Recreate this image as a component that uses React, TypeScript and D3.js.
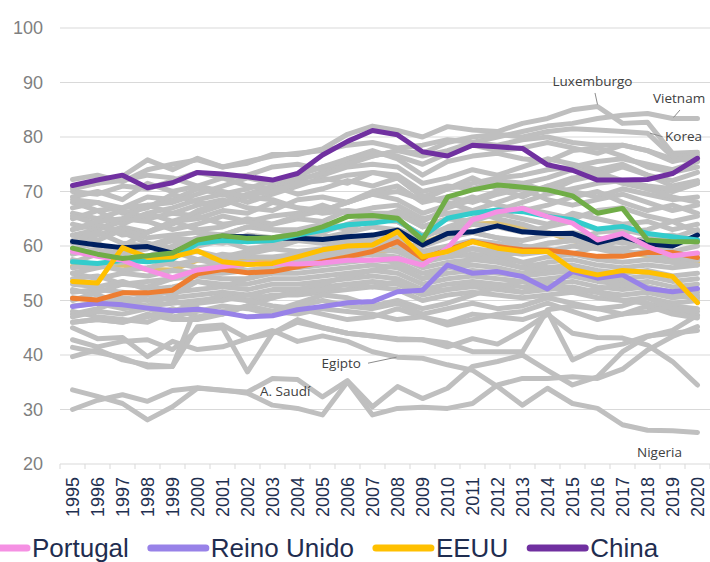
import React, { useEffect, useRef } from "react";
import * as d3 from "d3";

const years = [
  "1995", "1996", "1997", "1998", "1999", "2000", "2001", "2002", "2003",
  "2004", "2005", "2006", "2007", "2008", "2009", "2010", "2011", "2012",
  "2013", "2014", "2015", "2016", "2017", "2018", "2019", "2020",
];
const yTicks = [20, 30, 40, 50, 60, 70, 80, 90, 100];

// highlighted countries
const portugal = [59.0, 58.1, 57.4, 55.6, 54.2, 55.6, 56.2, 56.7, 56.8, 56.7, 56.9, 57.4, 57.4, 57.7, 56.5, 59.6, 64.8, 66.3, 66.9, 65.4, 64.2, 61.1, 62.3, 59.9, 58.2, 58.7];
const reinoUnido = [48.9, 49.5, 49.2, 48.6, 48.1, 48.4, 47.8, 47.0, 47.2, 48.3, 48.9, 49.6, 49.8, 51.6, 51.9, 56.5, 55.0, 55.3, 54.4, 52.1, 55.3, 54.1, 54.7, 52.2, 51.6, 52.2];
const eeuu = [53.5, 53.2, 59.7, 57.9, 58.0, 59.1, 57.1, 56.6, 56.8, 58.0, 59.3, 60.0, 60.2, 62.6, 58.0, 59.0, 60.8, 59.6, 59.0, 59.0, 55.7, 54.7, 55.5, 55.2, 54.4, 49.6];
const china = [71.1, 72.1, 73.0, 70.7, 71.6, 73.5, 73.2, 72.7, 72.1, 73.3, 76.7, 79.2, 81.2, 80.4, 77.3, 76.5, 78.5, 78.2, 77.9, 74.9, 73.9, 72.1, 72.1, 72.2, 73.3, 76.1];
const serieVerde = [59.6, 58.5, 57.7, 58.2, 58.7, 61.1, 61.9, 61.4, 61.5, 62.2, 63.5, 65.4, 65.6, 65.1, 61.1, 69.0, 70.3, 71.2, 70.8, 70.3, 69.2, 66.0, 66.9, 61.1, 60.8, 60.8];
const serieAzul = [60.8, 60.2, 59.7, 59.9, 58.7, 60.8, 61.8, 61.7, 61.4, 61.4, 61.2, 61.7, 62.0, 62.9, 60.2, 62.3, 62.6, 63.7, 62.6, 62.3, 62.3, 60.6, 61.7, 60.4, 60.0, 62.0];
const serieTurquesa = [57.1, 56.8, 57.4, 57.1, 57.6, 60.5, 61.0, 60.8, 61.0, 62.0, 62.9, 63.9, 64.2, 64.8, 61.7, 65.1, 66.0, 66.6, 66.3, 65.4, 64.8, 63.1, 63.6, 62.3, 61.7, 61.1];
const serieNaranja = [50.4, 50.1, 51.4, 51.4, 51.9, 54.9, 55.7, 55.1, 55.3, 56.2, 57.1, 58.0, 59.0, 60.8, 57.7, 59.3, 60.8, 59.9, 59.3, 59.2, 58.7, 58.1, 58.1, 58.8, 58.8, 57.9];
const serieOcre = [56.3, 56.1, 56.5, 55.7, 55.6, 57.4, 57.5, 57.3, 57.6, 58.0, 58.3, 58.5, 58.7, 59.5, 60.5, 62.3, 64.0, 64.2, 63.5, 62.5, 61.0, 60.0, 59.0, 58.2, 57.3, 57.0];

// rest of the countries (grey)
const vietnam = [62.0, 63.0, 64.5, 66.0, 67.0, 68.5, 69.5, 70.5, 72.0, 73.0, 74.5, 75.5, 76.5, 77.5, 76.5, 77.5, 79.0, 80.0, 81.0, 82.0, 82.5, 83.4, 84.0, 84.3, 83.4, 83.4];
const luxemburgo = [72.2, 73.0, 71.8, 74.0, 75.0, 75.8, 74.5, 75.2, 76.8, 76.8, 77.8, 80.5, 82.0, 81.2, 80.0, 81.9, 81.3, 81.0, 82.5, 83.4, 85.0, 85.6, 82.5, 82.7, 77.0, 77.2];
const korea = [60.5, 62.0, 63.5, 62.5, 64.5, 66.0, 67.5, 69.0, 70.5, 72.0, 73.5, 75.0, 76.5, 77.5, 77.0, 79.0, 80.0, 80.5, 80.0, 81.0, 81.5, 81.3, 81.0, 80.7, 76.4, 76.7];
const egipto = [45.0, 43.0, 43.2, 39.7, 42.5, 41.0, 41.5, 43.0, 44.5, 42.5, 43.5, 42.5, 40.6, 39.6, 39.4, 38.2, 37.2, 34.2, 30.8, 33.9, 31.1, 30.2, 27.2, 26.2, 26.1, 25.8];
const saudi = [30.0, 31.7, 32.7, 31.5, 33.5, 34.0, 33.5, 33.2, 35.7, 35.5, 32.3, 35.3, 30.5, 34.2, 32.0, 33.9, 37.9, 38.8, 40.0, 37.2, 34.5, 36.0, 40.6, 43.4, 44.5, 47.3];
const nigeria = [33.6, 32.4, 31.1, 28.1, 30.5, 33.9, 33.6, 33.0, 30.8, 30.2, 29.0, 35.1, 29.0, 30.2, 30.4, 30.2, 31.1, 34.5, 35.7, 35.7, 36.0, 35.7, 37.4, 40.9, 43.4, 45.2];
const g01 = [70.8, 71.5, 72.8, 75.8, 74.0, 76.1, 74.5, 75.5, 76.5, 77.0, 77.5, 78.5, 79.0, 78.0, 78.5, 79.5, 79.0, 78.5, 79.5, 80.0, 79.0, 78.5, 78.5, 77.5, 76.0, 75.5];
const g02 = [70.0, 69.5, 71.0, 70.5, 72.0, 73.5, 72.5, 73.0, 74.5, 75.0, 74.0, 76.0, 77.5, 76.0, 73.0, 75.5, 76.5, 77.0, 76.0, 75.5, 77.5, 78.0, 76.5, 74.5, 73.5, 74.5];
const g03 = [69.0, 70.0, 68.5, 71.5, 70.0, 71.0, 72.5, 71.0, 70.5, 72.5, 73.0, 74.5, 75.0, 74.5, 71.5, 72.5, 74.0, 73.0, 74.5, 76.0, 75.0, 74.0, 75.0, 73.0, 71.0, 72.0];
const g04 = [68.0, 66.5, 67.0, 69.0, 68.5, 70.5, 69.5, 68.0, 69.5, 71.0, 72.5, 71.5, 73.5, 73.0, 70.0, 71.0, 70.5, 72.0, 71.5, 70.0, 72.0, 73.0, 71.5, 70.5, 70.0, 71.5];
const g05 = [67.0, 68.0, 66.0, 67.0, 69.5, 68.0, 67.5, 69.5, 71.0, 69.5, 70.5, 72.0, 71.0, 72.5, 69.0, 70.5, 72.5, 70.5, 69.0, 71.0, 70.0, 69.0, 70.5, 69.5, 68.5, 69.0];
const g06 = [66.0, 65.0, 66.5, 65.0, 66.0, 67.5, 68.5, 67.0, 66.5, 68.5, 69.0, 68.0, 70.0, 71.0, 68.0, 69.0, 68.0, 69.5, 70.5, 68.5, 67.5, 68.5, 69.5, 68.0, 66.5, 67.5];
const g07 = [65.0, 66.5, 64.0, 66.0, 64.5, 65.0, 66.5, 66.0, 68.0, 67.0, 66.5, 68.0, 69.5, 68.5, 66.0, 67.5, 69.0, 67.5, 66.5, 67.5, 69.0, 70.0, 68.0, 66.5, 67.5, 66.0];
const g08 = [64.0, 63.0, 65.0, 64.5, 63.0, 64.0, 65.5, 64.5, 65.5, 66.0, 67.5, 66.0, 67.0, 67.5, 65.0, 66.0, 66.5, 65.5, 67.0, 66.0, 65.0, 66.5, 67.0, 65.5, 64.5, 65.5];
const g09 = [63.0, 64.0, 62.0, 62.5, 64.5, 63.0, 63.5, 65.0, 64.0, 65.0, 64.5, 66.5, 66.0, 66.0, 63.5, 65.0, 64.5, 66.0, 65.0, 64.0, 66.0, 65.0, 64.0, 64.5, 63.0, 64.0];
const g10 = [62.0, 61.0, 63.0, 61.5, 62.0, 62.5, 62.0, 63.5, 63.0, 63.0, 64.0, 63.5, 65.0, 64.5, 62.0, 63.0, 64.0, 63.5, 62.5, 63.5, 64.5, 63.0, 62.5, 63.0, 64.5, 62.5];
const g11 = [61.0, 62.5, 60.5, 60.0, 61.5, 61.0, 60.5, 62.0, 61.5, 62.5, 61.5, 62.5, 63.5, 63.0, 60.0, 61.5, 62.5, 61.5, 61.0, 62.0, 62.5, 61.5, 60.5, 61.5, 62.0, 61.0];
const g12 = [59.5, 58.5, 59.0, 60.5, 59.5, 60.0, 61.0, 59.5, 60.0, 61.0, 60.5, 61.0, 62.0, 61.5, 59.0, 60.0, 61.0, 60.5, 59.5, 60.5, 61.0, 60.0, 59.5, 60.5, 59.0, 60.0];
const g13 = [58.5, 59.5, 57.5, 58.0, 58.5, 59.0, 58.0, 59.0, 59.5, 59.0, 59.5, 60.5, 60.0, 60.5, 58.0, 59.0, 59.5, 59.0, 58.5, 59.0, 60.0, 59.5, 58.5, 59.0, 58.0, 58.5];
const g14 = [57.5, 56.5, 57.0, 57.5, 56.5, 57.5, 58.5, 58.0, 58.0, 58.5, 58.0, 59.0, 59.5, 59.0, 57.0, 58.0, 58.5, 58.0, 57.0, 58.0, 58.5, 57.5, 57.0, 57.5, 57.0, 57.5];
const g15 = [56.0, 56.5, 55.5, 56.0, 57.0, 56.0, 56.5, 57.0, 56.5, 57.5, 57.0, 58.0, 58.5, 58.0, 56.0, 57.0, 57.5, 57.0, 56.0, 57.0, 57.5, 56.5, 56.0, 56.5, 56.0, 56.5];
const g16 = [55.0, 54.0, 55.0, 54.5, 55.5, 55.0, 55.0, 55.5, 56.0, 56.0, 56.5, 57.0, 57.5, 57.0, 55.0, 56.0, 56.5, 56.0, 55.0, 56.0, 56.5, 55.5, 55.0, 55.5, 54.5, 55.0];
const g17 = [54.0, 54.5, 53.0, 53.5, 54.0, 54.5, 54.0, 54.0, 55.0, 55.0, 55.5, 56.0, 56.5, 56.0, 54.0, 55.0, 55.5, 55.0, 54.5, 55.0, 55.5, 54.5, 54.0, 54.5, 53.5, 54.0];
const g18 = [53.0, 52.5, 53.5, 52.0, 52.5, 53.5, 53.0, 53.0, 54.0, 54.0, 54.5, 55.0, 55.5, 55.0, 53.0, 54.0, 54.5, 54.0, 53.5, 54.0, 54.5, 53.5, 53.0, 53.5, 52.5, 53.0];
const g19 = [51.5, 52.0, 51.5, 51.0, 51.5, 52.0, 52.5, 52.0, 53.0, 53.0, 53.5, 54.0, 54.5, 54.0, 52.0, 53.0, 53.5, 53.0, 52.5, 53.0, 53.5, 52.5, 52.0, 52.5, 51.5, 52.0];
const g20 = [50.5, 50.0, 50.5, 50.0, 50.5, 51.0, 51.5, 51.0, 52.0, 52.0, 52.5, 53.0, 53.5, 53.0, 51.0, 52.0, 52.5, 52.0, 51.5, 52.0, 52.5, 51.5, 51.0, 51.5, 50.5, 51.0];
const g21 = [49.0, 49.5, 48.5, 49.0, 49.5, 50.0, 50.5, 50.0, 51.0, 51.0, 51.5, 52.0, 52.5, 52.0, 50.0, 51.0, 51.5, 51.0, 50.5, 51.0, 51.5, 50.5, 50.0, 50.5, 49.5, 50.0];
const g22 = [55.0, 56.0, 57.5, 58.0, 60.0, 61.5, 62.0, 63.5, 64.0, 65.5, 66.5, 68.0, 69.5, 70.0, 68.5, 70.5, 71.5, 72.5, 73.0, 74.0, 74.5, 75.5, 76.0, 75.0, 74.0, 75.5];
const g23 = [68.5, 68.0, 67.0, 67.5, 66.0, 65.5, 64.0, 64.5, 63.0, 62.5, 62.0, 61.0, 60.5, 61.0, 58.5, 59.0, 58.0, 57.5, 56.0, 55.5, 55.0, 54.0, 53.5, 52.5, 51.5, 50.5];
const g24 = [46.0, 46.5, 46.0, 47.5, 46.5, 46.5, 47.5, 49.0, 50.5, 52.0, 53.0, 54.5, 55.5, 56.5, 54.0, 56.0, 57.5, 58.0, 59.0, 60.5, 61.0, 62.5, 63.0, 62.0, 61.5, 63.0];
const g25 = [57.0, 58.5, 60.0, 62.5, 64.0, 66.5, 68.0, 69.5, 70.0, 71.5, 72.0, 73.0, 73.5, 72.5, 69.0, 68.0, 66.5, 65.0, 64.0, 62.5, 61.5, 60.5, 59.0, 58.5, 57.0, 56.5];
const g26 = [65.5, 64.0, 62.5, 60.5, 59.0, 57.5, 56.5, 55.5, 56.0, 57.5, 58.5, 60.0, 61.5, 63.0, 61.5, 63.5, 65.0, 66.5, 68.0, 69.5, 70.5, 71.5, 72.0, 71.0, 70.5, 71.5];
const g27 = [47.5, 48.5, 50.0, 49.0, 51.0, 53.5, 52.5, 54.0, 56.5, 58.0, 57.5, 59.5, 61.0, 60.0, 57.5, 58.0, 59.5, 58.5, 57.0, 56.0, 55.5, 54.0, 53.0, 52.5, 51.0, 50.5];
const g28 = [52.0, 51.0, 49.5, 51.0, 50.0, 48.5, 47.5, 49.0, 48.0, 49.5, 51.0, 50.5, 49.0, 50.0, 48.5, 49.5, 51.0, 52.5, 51.5, 53.5, 52.0, 51.5, 50.0, 49.5, 48.0, 47.3];
const g29 = [48.0, 47.0, 46.5, 46.0, 48.0, 49.5, 51.0, 50.0, 49.0, 48.5, 47.5, 46.5, 47.0, 48.5, 47.0, 45.5, 46.5, 47.5, 48.0, 49.5, 48.0, 46.5, 47.5, 49.0, 47.5, 46.8];
const g30 = [59.5, 60.5, 58.5, 59.5, 61.0, 60.0, 62.0, 61.0, 60.5, 62.5, 64.0, 63.0, 65.0, 66.5, 64.5, 67.0, 68.5, 70.0, 71.5, 72.5, 74.0, 73.5, 72.0, 70.5, 69.0, 68.0];
const g31 = [70.5, 71.5, 72.0, 73.0, 72.5, 71.0, 70.0, 69.0, 68.5, 67.0, 66.0, 66.5, 65.0, 64.5, 62.0, 63.0, 62.5, 61.5, 60.0, 59.5, 58.5, 60.0, 61.0, 59.5, 58.0, 57.5];
const g32 = [63.0, 64.5, 65.0, 67.5, 68.0, 69.5, 71.0, 72.5, 71.5, 73.0, 74.5, 76.0, 77.0, 76.5, 75.0, 77.0, 78.5, 77.5, 78.0, 79.0, 78.0, 77.0, 78.5, 77.5, 75.5, 76.5];
const g33 = [50.0, 51.5, 53.0, 52.5, 54.0, 55.5, 57.0, 58.5, 59.5, 61.0, 62.5, 64.0, 65.5, 66.0, 63.5, 65.0, 66.5, 68.0, 69.5, 71.0, 72.5, 73.0, 74.5, 73.0, 72.0, 73.5];
const g34 = [39.7, 41.0, 39.1, 38.2, 37.9, 45.2, 45.5, 43.0, 44.0, 46.0, 45.0, 44.0, 43.5, 43.0, 42.8, 41.5, 43.0, 42.0, 44.5, 47.5, 44.0, 43.2, 43.1, 41.8, 38.8, 34.5];
const g35 = [42.8, 41.5, 42.5, 42.8, 41.0, 44.5, 45.0, 36.9, 44.0, 46.5, 45.0, 44.0, 43.5, 42.8, 42.8, 42.2, 40.6, 40.6, 40.6, 48.3, 49.0, 48.5, 47.5, 48.0, 49.0, 48.5];
const g36 = [46.0, 46.5, 46.0, 47.0, 48.5, 47.0, 48.0, 49.0, 48.0, 47.5, 48.5, 48.0, 47.5, 46.5, 47.0, 46.0, 47.5, 47.0, 46.5, 48.0, 39.1, 41.2, 42.0, 43.5, 44.0, 44.5];
const g37 = [41.4, 40.5, 39.5, 37.8, 37.9, 49.5, 50.0, 51.0, 50.5, 51.5, 52.0, 53.0, 52.5, 53.5, 51.5, 52.0, 53.0, 52.5, 53.5, 52.5, 51.5, 52.0, 53.0, 52.0, 51.0, 51.5];
const g38 = [47.0, 48.0, 47.5, 48.5, 47.0, 48.0, 49.0, 48.5, 47.5, 49.0, 50.0, 49.0, 48.5, 49.5, 47.5, 48.5, 49.5, 48.5, 49.0, 50.5, 49.5, 48.5, 49.0, 50.5, 48.5, 48.0];

const greyLines = [
  vietnam, luxemburgo, korea, egipto, saudi, nigeria,
  g01, g02, g03, g04, g05, g06, g07, g08, g09, g10, g11, g12, g13, g14,
  g15, g16, g17, g18, g19, g20, g21, g22, g23, g24, g25, g26, g27, g28,
  g29, g30, g31, g32, g33, g34, g35, g36, g37, g38,
];

// coloured lines, drawn in this order (last on top)
const colourLines = [
  { values: reinoUnido, color: "#9882E8" },
  { values: serieNaranja, color: "#ED7D31" },
  { values: serieAzul, color: "#002060" },
  { values: serieTurquesa, color: "#33CCCC" },
  { values: portugal, color: "#F590E3" },
  { values: eeuu, color: "#FFC000" },
  { values: serieVerde, color: "#70AD47" },
  { values: china, color: "#7030A0" },
];

const legendItems = [
  { name: "Portugal", color: "#F590E3" },
  { name: "Reino Unido", color: "#9882E8" },
  { name: "EEUU", color: "#FFC000" },
  { name: "China", color: "#7030A0" },
];

// name labels: anchored on a point of a grey line, offsets in px
const callouts = [
  { text: "Luxemburgo", values: luxemburgo, i: 21, dx: -5, dy: -20, anchor: "middle", leader: [-2.5, -13.5, 0, -2] },
  { text: "Vietnam", values: vietnam, i: 24, dx: -19.5, dy: -15.5, anchor: "start", leader: [7.5, -8.5, 1, -1] },
  { text: "Korea", values: korea, i: 23, dx: 17.5, dy: 8, anchor: "start", leader: [2.5, 0, 15, 3.5] },
  { text: "Egipto", values: egipto, i: 13, dx: -36.5, dy: 11, anchor: "end", leader: [-29.5, 6, -1, 0] },
  { text: "A. Saudí", values: saudi, i: 8, dx: -12.5, dy: 17.6, anchor: "start", leader: null },
  { text: "Nigeria", values: egipto, i: 25, dx: -60.5, dy: 24.6, anchor: "start", leader: null },
];

function drawChart(node: SVGSVGElement) {
  const width = 710;
  const height = 562;
  const plot = { left: 60, right: 710, top: 28, bottom: 464 };

  const svg = d3.select(node);
  svg.selectAll("*").remove();
  svg.attr("width", width).attr("height", height);

  const x = d3.scaleBand().domain(years).range([plot.left, plot.right]).padding(0);
  const y = d3.scaleLinear().domain([20, 100]).range([plot.bottom, plot.top]);
  const cx = (i: number) => (x(years[i]) as number) + x.bandwidth() / 2;

  // grid
  svg
    .append("g")
    .selectAll("line")
    .data(yTicks.slice(1))
    .join("line")
    .attr("x1", plot.left)
    .attr("x2", plot.right)
    .attr("y1", (d) => y(d))
    .attr("y2", (d) => y(d))
    .attr("stroke", "#D9D9D9")
    .attr("stroke-width", 1);

  // y labels
  svg
    .append("g")
    .selectAll("text")
    .data(yTicks)
    .join("text")
    .attr("x", 43)
    .attr("y", (d) => y(d))
    .attr("dy", "0.35em")
    .attr("text-anchor", "end")
    .attr("font-family", "Liberation Sans, Arial, sans-serif")
    .attr("font-size", 18)
    .attr("fill", "#7F7F7F")
    .text((d) => d);

  const line = d3
    .line<number>()
    .x((_, i) => cx(i))
    .y((d) => y(d));

  const lines = svg.append("g").attr("fill", "none").attr("stroke-linejoin", "round").attr("stroke-linecap", "round");

  lines.append("path").attr("d", line(serieOcre)).attr("stroke", "#DCC073").attr("stroke-width", 5);

  lines
    .selectAll("path.grey")
    .data(greyLines)
    .join("path")
    .attr("class", "grey")
    .attr("d", (d) => line(d))
    .attr("stroke", "#BFBFBF")
    .attr("stroke-width", 5);

  lines
    .selectAll("path.col")
    .data(colourLines)
    .join("path")
    .attr("class", "col")
    .attr("d", (d) => line(d.values))
    .attr("stroke", (d) => d.color)
    .attr("stroke-width", 5);

  // x axis
  const axis = svg.append("g");
  axis
    .append("line")
    .attr("x1", plot.left)
    .attr("x2", plot.right)
    .attr("y1", plot.bottom)
    .attr("y2", plot.bottom)
    .attr("stroke", "#D9D9D9");
  axis
    .selectAll("line.tick")
    .data(d3.range(years.length + 1))
    .join("line")
    .attr("class", "tick")
    .attr("x1", (i) => plot.left + i * x.bandwidth())
    .attr("x2", (i) => plot.left + i * x.bandwidth())
    .attr("y1", plot.bottom)
    .attr("y2", plot.bottom + 5)
    .attr("stroke", "#D9D9D9");
  axis
    .selectAll("text")
    .data(years)
    .join("text")
    .attr("transform", (_, i) => `translate(${cx(i) + 6.5},${plot.bottom + 13}) rotate(-90)`)
    .attr("text-anchor", "end")
    .attr("font-family", "Liberation Sans, Arial, sans-serif")
    .attr("font-size", 18)
    .attr("fill", "#1F3050")
    .text((d) => d);

  // callouts
  const notes = svg.append("g");
  callouts.forEach((c) => {
    const px = cx(c.i);
    const py = y(c.values[c.i]);
    if (c.leader) {
      notes
        .append("line")
        .attr("x1", px + c.leader[0])
        .attr("y1", py + c.leader[1])
        .attr("x2", px + c.leader[2])
        .attr("y2", py + c.leader[3])
        .attr("stroke", "#8C8C8C")
        .attr("stroke-width", 1);
    }
    notes
      .append("text")
      .attr("x", px + c.dx)
      .attr("y", py + c.dy)
      .attr("text-anchor", c.anchor)
      .attr("font-family", "Open Sans, sans-serif")
      .attr("font-size", 13.5)
      .attr("fill", "#404040")
      .text(c.text);
  });

  // legend (runs off the left edge like the original)
  const legend = svg.append("g");
  let lx = -28;
  legendItems.forEach((item) => {
    legend
      .append("line")
      .attr("x1", lx)
      .attr("x2", lx + 55)
      .attr("y1", 548)
      .attr("y2", 548)
      .attr("stroke", item.color)
      .attr("stroke-width", 7)
      .attr("stroke-linecap", "round");
    const t = legend
      .append("text")
      .attr("x", lx + 60)
      .attr("y", 557)
      .attr("font-family", "Liberation Sans, Arial, sans-serif")
      .attr("font-size", 26)
      .attr("fill", "#1F2D50")
      .text(item.name);
    const w = (t.node() as SVGTextElement).getComputedTextLength();
    lx += 60 + w + 22;
  });
}

export default function App() {
  const ref = useRef<SVGSVGElement>(null);

  useEffect(() => {
    if (ref.current) drawChart(ref.current);
  }, []);

  return <svg ref={ref} style={{ position: "absolute", left: 0, top: 0, background: "#fff" }} />;
}
